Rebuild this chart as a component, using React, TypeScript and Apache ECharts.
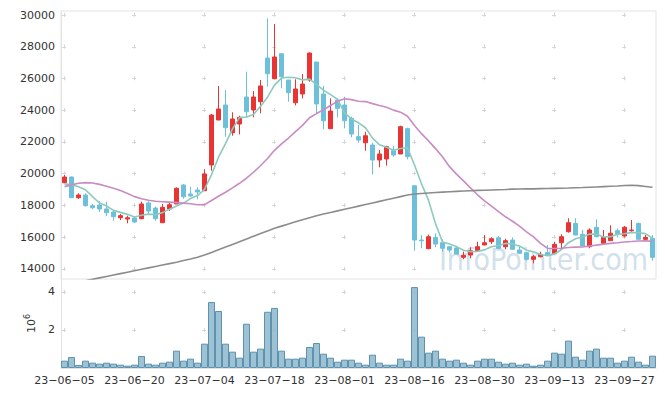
import React, { useEffect, useRef } from 'react';
import * as echarts from 'echarts';

const dates = [
  '23-06-05','23-06-07','23-06-08','23-06-09','23-06-12','23-06-13','23-06-14','23-06-15','23-06-16','23-06-19',
  '23-06-20','23-06-21','23-06-22','23-06-23','23-06-26','23-06-27','23-06-28','23-06-29','23-06-30','23-07-03',
  '23-07-04','23-07-05','23-07-06','23-07-07','23-07-10','23-07-11','23-07-12','23-07-13','23-07-14','23-07-17',
  '23-07-18','23-07-19','23-07-20','23-07-21','23-07-24','23-07-25','23-07-26','23-07-27','23-07-28','23-07-31',
  '23-08-01','23-08-02','23-08-03','23-08-04','23-08-07','23-08-08','23-08-09','23-08-10','23-08-11','23-08-14',
  '23-08-16','23-08-17','23-08-18','23-08-21','23-08-22','23-08-23','23-08-24','23-08-25','23-08-28','23-08-29',
  '23-08-30','23-08-31','23-09-01','23-09-04','23-09-05','23-09-06','23-09-07','23-09-08','23-09-11','23-09-12',
  '23-09-13','23-09-14','23-09-15','23-09-18','23-09-19','23-09-20','23-09-21','23-09-22','23-09-25','23-09-26',
  '23-09-27','23-09-28','23-10-04','23-10-05','23-10-06',
];

const opens = [
  19437,19795,18491,18660,17990,18030,17780,17590,17230,17150,
  17210,17170,18160,17840,16915,17780,18095,19290,18725,18975,
  18930,20550,23385,24330,22585,23135,24835,24015,24540,27290,
  25985,27560,25905,24475,25025,25905,27040,25025,22840,24645,
  24330,23490,22335,21955,21810,20865,20930,21450,21245,22840,
  19245,15825,15280,15995,15655,15405,15325,14735,14880,15150,
  15510,15720,15970,15405,15825,15195,15030,14610,14775,15030,
  14990,15655,16350,16875,16185,15405,16625,15620,15785,16415,
  16080,16415,16875,15870,15935,
];

const closes = [
  19795,18491,18660,17990,17860,17780,17546,17295,17360,17230,
  16960,18095,17650,17170,17885,18050,19085,18555,18600,18850,
  19985,23700,24080,22900,23450,23555,23910,24835,25530,26300,
  27355,26115,25105,25340,25650,27605,24395,23340,23950,24120,
  23340,22505,22125,22395,20865,21245,21705,21180,22965,21075,
  15825,15780,16035,15575,15305,15195,14945,14865,15150,15405,
  15655,15910,15305,15785,15240,14990,14610,14775,14925,14860,
  15555,16035,16915,16140,15450,16455,16035,15995,16250,16205,
  16625,16455,15870,15995,14735,
];

const lows = [
  19400,18470,18410,17930,17760,17590,17340,17040,17085,16880,
  16880,17130,17510,17040,16915,17670,18095,18430,18555,18390,
  18930,20190,23385,22335,22395,22480,23555,23555,23810,25480,
  25985,25380,24540,24310,24750,25800,23810,22800,22840,23555,
  22860,22295,21955,21450,19965,20405,20510,21075,21245,20910,
  15150,15305,15280,15365,15090,15030,14945,14610,14675,15150,
  15510,15575,15240,15240,15195,14945,14525,14360,14735,14860,
  14990,15305,16290,16140,15450,15305,15995,15620,15785,15995,
  15995,16290,15870,15785,14525,
];

const highs = [
  19920,19820,18770,18770,18095,18280,18240,17670,17465,17360,
  17300,18240,18265,17925,18095,18200,19145,19355,19185,19145,
  20280,23765,25530,25275,23870,23655,26430,25210,25905,29790,
  29430,27560,25905,25950,26280,27630,27040,25530,24750,24750,
  24855,23595,23070,22650,21955,21495,21765,21750,23030,22900,
  19245,16140,16165,16250,15870,15450,15450,15090,15365,15720,
  16140,15995,16080,15910,15995,15405,15090,14880,15090,15510,
  15720,16185,17195,17195,16455,16560,17130,16455,16750,16560,
  16710,17085,16915,16140,16140,
];

// volume in units of 10^6 shares
const volumes = [
  0.386,0.579,0.158,0.386,0.28,0.228,0.28,0.228,0.175,0.123,
  0.175,0.632,0.228,0.175,0.28,0.333,0.912,0.386,0.491,0.28,
  1.28,3.47,3.0,1.28,0.86,0.544,2.33,0.86,1.02,2.96,
  3.16,0.912,0.491,0.491,0.544,1.105,1.316,0.754,0.544,0.333,
  0.439,0.439,0.28,0.175,0.70,0.28,0.175,0.175,0.491,0.386,
  4.26,1.65,0.807,0.912,0.491,0.386,0.439,0.28,0.175,0.386,
  0.491,0.491,0.333,0.228,0.28,0.175,0.228,0.123,0.175,0.386,
  0.807,0.754,1.44,0.596,0.439,0.912,1.02,0.544,0.544,0.28,
  0.386,0.596,0.333,0.175,0.649,
];

// moving-average values before enough visible history exists
const ma5Head = [19360, 19310, 19180, 18990];
const ma20Head = [
  19190,19300,19400,19440,19420,19330,19210,19080,18950,18760,
  18560,18430,18330,18270,18240,18210,18180,18150,18110,
];
const ma60 = [
  12990,13080,13170,13260,13350,13440,13530,13620,13710,13800,
  13890,13980,14070,14160,14250,14340,14430,14530,14630,14740,
  14880,15040,15210,15380,15550,15720,15890,16060,16230,16400,
  16560,16700,16840,16970,17100,17230,17350,17460,17560,17660,
  17760,17860,17960,18060,18160,18260,18360,18460,18560,18660,
  18720,18760,18790,18820,18845,18870,18890,18910,18930,18950,
  18965,18980,18995,19010,19030,19040,19045,19050,19060,19070,
  19080,19090,19100,19115,19130,19150,19170,19190,19210,19230,
  19260,19280,19250,19200,19145,
];

function movingAverage(n: number, head: number[]): number[] {
  return closes.map((_, i) => {
    if (i < n - 1) return head[i];
    let s = 0;
    for (let k = i - n + 1; k <= i; k++) s += closes[k];
    return Math.round(s / n);
  });
}

const FONT = 'DejaVu Sans';
const CROSS = '#d6d6d6';
const BORDER = '#e3e3e3';

export default function App() {
  const ref = useRef<HTMLDivElement>(null);
  useEffect(() => {
    document.body.style.margin = '0';
    if (!ref.current) return;
    const chart = echarts.init(ref.current, null, { renderer: 'svg' });
    const ma5 = movingAverage(5, ma5Head);
    const ma20 = movingAverage(20, ma20Head);
    const candles = opens.map((o, i) => [o, closes[i], lows[i], highs[i]]);

    chart.setOption({
      animation: false,
      textStyle: { fontFamily: FONT },
      grid: [
        { left: 61, right: 9, top: 11, height: 268, show: true, borderColor: BORDER, borderWidth: 1 },
        { left: 61, right: 9, top: 279, height: 89 },
      ],
      graphic: [
        {
          type: 'text',
          z: 0,
          style: {
            text: 'InfoPointer.com',
            x: 648,
            y: 259,
            align: 'right',
            verticalAlign: 'middle',
            fontSize: 30,
            fontFamily: 'DejaVu Sans Condensed, DejaVu Sans',
            fill: 'rgba(150,185,208,0.45)',
          },
        },
      ],
      xAxis: [
        {
          type: 'category',
          data: dates,
          gridIndex: 0,
          axisLine: { show: false },
          axisTick: { show: false },
          axisLabel: { show: false },
          splitLine: {
            show: true,
            interval: 9,
            alignWithLabel: true,
            lineStyle: { color: CROSS, width: 1, type: [4, 27.75], dashOffset: 29.75 },
          },
        },
        {
          type: 'category',
          data: dates,
          gridIndex: 1,
          axisLine: { show: true, lineStyle: { color: BORDER } },
          axisTick: { show: false },
          axisLabel: {
            interval: 9,
            color: '#333',
            fontSize: 11,
            fontFamily: FONT,
            margin: 7,
            formatter: (v: string) => v.replace(/-/g, '\u2212'),
          },
          splitLine: {
            show: true,
            interval: 9,
            alignWithLabel: true,
            lineStyle: { color: CROSS, width: 1, type: [4, 34], dashOffset: 27 },
          },
        },
      ],
      yAxis: [
        {
          type: 'value',
          gridIndex: 0,
          min: 13370,
          max: 30252,
          splitNumber: 8,
          axisLine: { show: true, lineStyle: { color: BORDER } },
          axisTick: { show: false },
          axisLabel: {
            color: '#333',
            fontSize: 11,
            fontFamily: FONT,
            margin: 6,
            showMinLabel: false,
            showMaxLabel: false,
            formatter: (v: number) => String(v),
          },
          splitLine: {
            show: true,
            showMinLine: false,
            showMaxLine: false,
            lineStyle: { color: CROSS, width: 1, type: [4, 66], dashOffset: 68.5 },
          },
        },
        {
          type: 'value',
          gridIndex: 1,
          min: 0,
          max: 4.684,
          interval: 2,
          name: '{b|10}{s|6}',
          nameLocation: 'middle',
          nameRotate: 90,
          nameGap: 24,
          nameTextStyle: {
            rich: {
              b: { fontSize: 11, color: '#333', fontFamily: FONT, lineHeight: 14, verticalAlign: 'bottom' },
              s: { fontSize: 8, color: '#333', fontFamily: FONT, lineHeight: 9, verticalAlign: 'top' },
            },
          },
          axisLine: { show: true, lineStyle: { color: BORDER } },
          axisTick: { show: false },
          axisLabel: {
            color: '#333',
            fontSize: 11,
            fontFamily: FONT,
            margin: 6,
            showMinLabel: false,
            showMaxLabel: false,
            formatter: (v: number) => String(v),
          },
          splitLine: {
            show: true,
            showMinLine: false,
            showMaxLine: false,
            lineStyle: { color: CROSS, width: 1, type: [4, 66], dashOffset: 68.5 },
          },
        },
      ],
      series: [
        {
          type: 'candlestick',
          xAxisIndex: 0,
          yAxisIndex: 0,
          data: candles,
          barWidth: 5,
          itemStyle: {
            color: '#e93434',
            color0: '#6cc0da',
            borderColor: '#e93434',
            borderColor0: '#6cc0da',
            borderWidth: 1,
          },
        },
        {
          type: 'line',
          name: 'MA5',
          xAxisIndex: 0,
          yAxisIndex: 0,
          data: ma5,
          showSymbol: false,
          lineStyle: { color: '#8ccabe', width: 1.6 },
        },
        {
          type: 'line',
          name: 'MA20',
          xAxisIndex: 0,
          yAxisIndex: 0,
          data: ma20,
          showSymbol: false,
          lineStyle: { color: '#c98bc3', width: 1.6 },
        },
        {
          type: 'line',
          name: 'MA60',
          xAxisIndex: 0,
          yAxisIndex: 0,
          data: ma60,
          showSymbol: false,
          lineStyle: { color: '#8c8c8c', width: 1.6 },
        },
        {
          type: 'bar',
          xAxisIndex: 1,
          yAxisIndex: 1,
          data: volumes,
          barCategoryGap: '0%',
          itemStyle: { color: 'rgba(145,187,207,0.9)', borderColor: '#5f92ae', borderWidth: 1 },
        },
      ],
    });
    return () => chart.dispose();
  }, []);
  return <div ref={ref} style={{ width: 665, height: 397 }} />;
}
